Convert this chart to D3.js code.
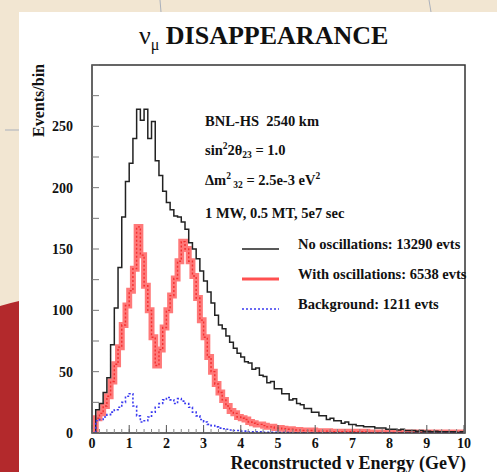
<!DOCTYPE html>
<html><head><meta charset="utf-8">
<script src="https://cdn.jsdelivr.net/npm/d3@7"></script>
<style>
html,body{margin:0;padding:0;background:#f2e6d2;}
svg{display:block;font-family:"Liberation Serif","Times New Roman",serif;}
text{white-space:pre;}
</style></head>
<body><svg id="c" width="497" height="472"></svg>
<script>
// ---- data (events per bin, bins of 0.1 GeV starting at 0) ----
const binWidth = 0.1;
const noOsc = [0,19,24,33,45,72,102,135,176,205,
  220,240,264,255,264,240,254,222,210,197,
  188,182,177,176,172,166,155,150,142,132,
  124,115,106,96,88,85,79,74,69,65,
  62,58,57,52,53,47,46,41,42,36,
  36,32,32,27,28,24,23,20,20,17,
  17,14,14,11,12,10,10,8,9,7,
  7,6,6,5,5,5,4,4,4,3,
  3,3,2.5,3,2,2,2,1.5,2,1.5,
  1.5,1,1.5,1,1,1,1,1,0.5,1];
const withOsc = [0,12,16,22,30,42,56,70,88,104,
  116,134,168,145,120,100,78,55,68,86,
  100,112,126,140,156,150,140,128,110,92,
  78,62,50,40,33,27,22,18,16,13,
  12,11,9,8,7,7,6,5,5,4,
  4,3.5,3,3,2.5,2.5,2,2,2,2,
  1.5,1.5,1.5,1.5,1,1,1,1,1,1,
  1,1,1,1,0.5,0.5,0.5,0.5,0.5,0.5,
  0.5,0.5,0.5,0.5,0.5,0.5,0.5,0.5,0.5,0.5,
  0.5,0.5,0.5,0.5,0.5,0.5,0.5,0.5,0.5,0.5];
const background = [0,10,11,13,15,17,19,21,25,30,
  32,22,14,9,10,13,17,21,24,27,
  29,27,24,28,26,24,21,17,14,11,
  9,7,6,5,4,3.5,3,2.5,2,2,
  1.5,1.5,1,1,1,1,0.5,0.5,0.5,0.5,
  0.3,0.3,0.3,0.2,0.2,0.2,0.1,0.1,0.1,0.1,
  0,0,0,0,0,0,0,0,0,0,
  0,0,0,0,0,0,0,0,0,0,
  0,0,0,0,0,0,0,0,0,0,
  0,0,0,0,0,0,0,0,0,0];
const xTicks = [0,1,2,3,4,5,6,7,8,9,10];
const yTicks = [0,50,100,150,200,250];
const infoLines = ["BNL-HS  2540 km","sin²2θ23 = 1.0","Δm² 32 = 2.5e-3 eV²","1 MW, 0.5 MT, 5e7 sec"];
const legendLabels = ["No oscillations: 13290 evts","With oscillations: 6538 evts","Background: 1211 evts"];

const svg = d3.select("#c");
// backdrop (slide)
svg.append("rect").attr("x",0).attr("y",0).attr("width",497).attr("height",472).attr("fill","#f2e6d2");
svg.append("path").attr("d","M0,306 Q10,303 19,301 L19,472 L0,472 Z").attr("fill","#b3292c");
svg.append("rect").attr("x",19).attr("y",12).attr("width",478).attr("height",460).attr("fill","#ffffff");
svg.append("line").attr("x1",160).attr("x2",161).attr("y1",0).attr("y2",12).attr("stroke","#aab0bb").attr("stroke-width",1);
svg.append("line").attr("x1",429).attr("x2",431).attr("y1",0).attr("y2",12).attr("stroke","#aab0bb").attr("stroke-width",1);
svg.append("line").attr("x1",5).attr("x2",19).attr("y1",130).attr("y2",130).attr("stroke","#aab0bb").attr("stroke-width",1);

const L=92, R=465, T=65, B=433;
const x = d3.scaleLinear().domain([0,10]).range([L,464]);
const y = d3.scaleLinear().domain([0,300]).range([B,T]);

function pts(arr){
  const p = arr.map((v,i)=>[i*binWidth, v]);
  p.push([arr.length*binWidth, arr[arr.length-1]]);
  return p;
}
const step = d3.line().x(d=>x(d[0])).y(d=>y(d[1])).curve(d3.curveStepAfter);

const plot = svg.append("g");
plot.append("defs").append("clipPath").attr("id","clip").append("rect")
  .attr("x",L).attr("y",T).attr("width",R-L).attr("height",B-T);
const g = plot.append("g").attr("clip-path","url(#clip)");

// red band
g.append("path").attr("d",step(pts(withOsc))).attr("fill","none")
  .attr("stroke","#ff5858").attr("stroke-width",6).attr("opacity",0.8);
g.append("path").attr("d",step(pts(withOsc))).attr("fill","none")
  .attr("stroke","#f01e1e").attr("stroke-width",1.4).attr("stroke-dasharray","2,2").attr("opacity",0.8);
// black
g.append("path").attr("d",step(pts(noOsc))).attr("fill","none")
  .attr("stroke","#222").attr("stroke-width",1.5);
// blue
g.append("path").attr("d",step(pts(background))).attr("fill","none")
  .attr("stroke","#3a3af0").attr("stroke-width",1.6).attr("stroke-dasharray","2,2");

// frame
svg.append("rect").attr("x",L).attr("y",T).attr("width",R-L).attr("height",B-T)
  .attr("fill","none").attr("stroke","#333").attr("stroke-width",1.5);

// axes (ticks inside)
const xMinor = d3.range(0,10.001,0.2);
svg.append("g").selectAll("line").data(xMinor).join("line")
  .attr("x1",d=>x(d)).attr("x2",d=>x(d)).attr("y1",B).attr("y2",B-4).attr("stroke","#888").attr("stroke-width",1);
svg.append("g").selectAll("line").data(xTicks).join("line")
  .attr("x1",d=>x(d)).attr("x2",d=>x(d)).attr("y1",B).attr("y2",B-8).attr("stroke","#555").attr("stroke-width",1);
const yMinor = d3.range(0,300.1,25);
svg.append("g").selectAll("line").data(yMinor).join("line")
  .attr("x1",L).attr("x2",L+7).attr("y1",d=>y(d)).attr("y2",d=>y(d)).attr("stroke","#777").attr("stroke-width",1);

svg.append("g").selectAll("text").data(xTicks).join("text")
  .attr("x",d=>x(d)).attr("y",448).attr("text-anchor","middle")
  .attr("font-size",14).attr("font-weight","bold").attr("fill","#111").text(d=>d);
svg.append("g").selectAll("text").data(yTicks).join("text")
  .attr("x",73).attr("y",d=>y(d)+5).attr("text-anchor","end")
  .attr("font-size",14).attr("font-weight","bold").attr("fill","#111").text(d=>d);

// axis titles
svg.append("text").attr("x",466).attr("y",469).attr("text-anchor","end")
  .attr("font-size",18).attr("font-weight","bold").attr("fill","#111")
  .text("Reconstructed ν Energy (GeV)");
svg.append("text").attr("transform","translate(44,64) rotate(-90)").attr("text-anchor","end")
  .attr("font-size",16).attr("font-weight","bold").attr("fill","#111").text("Events/bin");

// title
const tt = svg.append("text").attr("x",139).attr("y",44).attr("font-size",26).attr("fill","#111");
tt.append("tspan").text("ν");
tt.append("tspan").attr("font-size",16).attr("dy",6).text("μ");
tt.append("tspan").attr("dy",-6).attr("font-weight","bold").text(" DISAPPEARANCE");

// info text
const info = svg.append("g").attr("font-size",14.5).attr("font-weight","bold").attr("fill","#111");
info.append("text").attr("x",205).attr("y",126).text(infoLines[0]);
const s2 = info.append("text").attr("x",205).attr("y",155);
s2.append("tspan").text("sin");
s2.append("tspan").attr("font-size",9.5).attr("dy",-6).text("2");
s2.append("tspan").attr("dy",6).text("2θ");
s2.append("tspan").attr("font-size",9.5).attr("dy",3).text("23");
s2.append("tspan").attr("dy",-3).text(" = 1.0");
const dm = info.append("text").attr("x",205).attr("y",185);
dm.append("tspan").text("Δm");
dm.append("tspan").attr("font-size",9.5).attr("dy",-6).text("2");
dm.append("tspan").attr("font-size",9.5).attr("dy",9).text(" 32");
dm.append("tspan").attr("dy",-3).text(" = 2.5e-3 eV");
dm.append("tspan").attr("font-size",9.5).attr("dy",-6).text("2");
info.append("text").attr("x",205).attr("y",218).text(infoLines[3]);

// legend
const legY = [249,279,309];
const legStyles = [
  {stroke:"#222", w:1.6, dash:null},
  {stroke:"#ff5050", w:3, dash:null},
  {stroke:"#3a3af0", w:1.5, dash:"2,2"}];
legendLabels.forEach((lab,i)=>{
  svg.append("line").attr("x1",242).attr("x2",279).attr("y1",legY[i]).attr("y2",legY[i])
    .attr("stroke",legStyles[i].stroke).attr("stroke-width",legStyles[i].w)
    .attr("stroke-dasharray",legStyles[i].dash);
  svg.append("text").attr("x",298).attr("y",legY[i]).attr("font-size",14.5).attr("font-weight","bold")
    .attr("fill","#111").text(lab);
});
</script></body></html>
